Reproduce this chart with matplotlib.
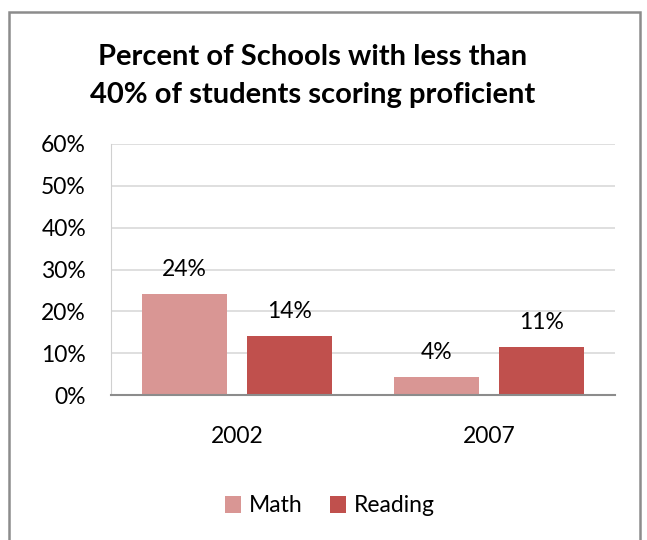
import matplotlib.pyplot as plt
import numpy as np
from matplotlib.patches import Rectangle
from matplotlib.ticker import PercentFormatter

years = ['2002', '2007']
math_vals = [0.242, 0.043]
reading_vals = [0.141, 0.115]
value_labels_math = ['24%', '4%']
value_labels_reading = ['14%', '11%']

plt.rcParams['font.family'] = ['Lato', 'DejaVu Sans']

fig = plt.figure(figsize=(6.47, 5.40), dpi=100)
ax = fig.add_axes([111/647, 1 - 395/540, (615-111)/647, (395-144)/540])

# frame around the whole chart (Excel style)
fig.patches.append(Rectangle((9/647, -0.05), (640-9)/647, 1.05 - 12/540,
                             transform=fig.transFigure, fill=False,
                             edgecolor='#8c8c8c', linewidth=1.8))

x = np.arange(len(years))
w = 0.337
off = w/2 + 0.04
b1 = ax.bar(x - off, math_vals, w, color='#d99694', label='Math')
b2 = ax.bar(x + off, reading_vals, w, color='#c0504d', label='Reading')

for bars, labels in ((b1, value_labels_math), (b2, value_labels_reading)):
    for bar, lab in zip(bars, labels):
        ax.annotate(lab, (bar.get_x() + bar.get_width()/2, bar.get_height()),
                    xytext=(0, 10), textcoords='offset points',
                    ha='center', va='bottom', fontsize=16.5)

ax.set_xlim(-0.5, 1.5)
ax.set_ylim(0, 0.6)
ax.set_yticks(np.arange(0, 0.61, 0.1))
ax.yaxis.set_major_formatter(PercentFormatter(1.0, decimals=0))
ax.set_xticks(x)
ax.set_xticklabels(years)
ax.tick_params(axis='both', length=0, labelsize=16.5)
ax.tick_params(axis='y', pad=18)
ax.tick_params(axis='x', pad=22)
ax.grid(axis='y', color='#d9d9d9', linewidth=1.2)
ax.set_axisbelow(True)
for s in ['top', 'right']:
    ax.spines[s].set_visible(False)
ax.spines['left'].set_color('#d0d0d0')
ax.spines['bottom'].set_color('#8c8c8c')
ax.spines['bottom'].set_linewidth(1.5)

fig.text(0.483, 1 - 76/540, 'Percent of Schools with less than\n40% of students scoring proficient',
         ha='center', va='center', fontsize=21, fontweight='bold', linespacing=1.55)

fig.legend(loc='center', bbox_to_anchor=(0.51, 1 - 506/540), ncol=2, frameon=False,
           fontsize=16.5, handlelength=0.7, handleheight=0.7, handletextpad=0.35,
           columnspacing=1.2)

fig.savefig('out.png', dpi=100)
